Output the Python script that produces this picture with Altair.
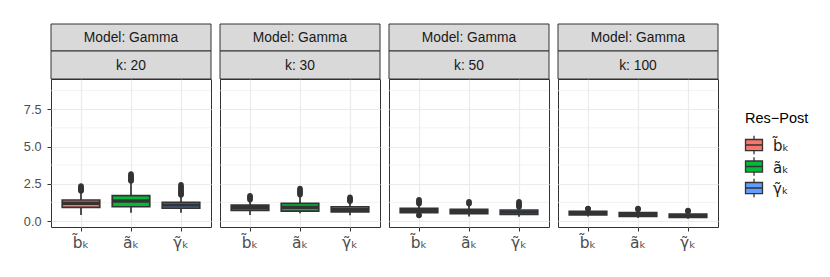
import altair as alt
import pandas as pd

FONT = "Liberation Sans"
MATH_FONT = "DejaVu Sans"

# ---- data -------------------------------------------------------------
ks = [20, 30, 50, 100]
cats = ["b\u0303\u2096", "a\u0303\u2096", "\u03b3\u0303\u2096"]
colors = ["#F8766D", "#00BA38", "#619CFF"]

# order: for each k, categories b, a, gamma
panel_k = [20, 20, 20, 30, 30, 30, 50, 50, 50, 100, 100, 100]
panel_cat = cats * 4
whisker_low = [0.40, 0.56, 0.56, 0.40, 0.52, 0.38, 0.45, 0.30, 0.29, 0.30, 0.20, 0.15]
q1 = [0.92, 0.96, 0.87, 0.72, 0.67, 0.62, 0.56, 0.49, 0.45, 0.42, 0.31, 0.25]
median = [1.19, 1.34, 1.07, 0.89, 0.92, 0.78, 0.72, 0.63, 0.60, 0.54, 0.45, 0.36]
q3 = [1.41, 1.70, 1.25, 1.07, 1.19, 0.96, 0.85, 0.78, 0.74, 0.65, 0.56, 0.47]
whisker_high = [1.98, 2.62, 1.70, 1.38, 1.74, 1.29, 1.12, 1.12, 0.92, 0.78, 0.75, 0.64]

outliers = [
    [2.02, 2.07, 2.12, 2.17, 2.22, 2.28, 2.35],
    [2.68, 2.74, 2.80, 2.86, 2.93, 3.00, 3.07, 3.15],
    [1.74, 1.80, 1.87, 1.94, 2.00, 2.08, 2.16, 2.25, 2.34, 2.44],
    [1.43, 1.49, 1.56, 1.63, 1.70],
    [1.77, 1.84, 1.92, 2.00, 2.09, 2.19],
    [1.32, 1.38, 1.45, 1.52, 1.59],
    [1.16, 1.22, 1.29, 1.36, 1.43, 0.40, 0.37],
    [1.16, 1.23, 1.30],
    [0.95, 1.01, 1.08, 1.15, 1.22, 1.30],
    [0.80, 0.83, 0.85],
    [0.77, 0.81, 0.85],
    [0.66, 0.68, 0.70],
]

minor_grid = [1.25, 3.75, 6.25, 8.75]
y_ticks = [0.0, 2.5, 5.0, 7.5]
y_domain = [-0.4, 9.53]
model_label = "Model: Gamma"
legend_title = "Res\u2212Post"

# ---- tables -------------------------------------------------------------
stats = pd.DataFrame({
    "k": panel_k, "cat": panel_cat, "wlo": whisker_low, "q1": q1,
    "med": median, "q3": q3, "whi": whisker_high,
})
out_rows = []
for kk, cc, vals in zip(panel_k, panel_cat, outliers):
    for v in vals:
        out_rows.append({"k": kk, "cat": cc, "v": v})
out_df = pd.DataFrame(out_rows)
minor_df = pd.DataFrame({"v": minor_grid})

W, H = 160, 148
DARK = "#333333"
LW = 1.7
color_scale = alt.Scale(domain=cats, range=colors)
y_scale = alt.Scale(domain=y_domain, nice=False, zero=False)


def make_panel(i, k):
    if i == 0:
        y_axis = alt.Axis(title=None, values=y_ticks, format=".1f", grid=True,
                          ticks=True, labels=True, domain=False)
    else:
        y_axis = alt.Axis(title=None, values=y_ticks, grid=True, ticks=False,
                          labels=False, domain=False)
    x_enc = alt.X("cat:N", sort=cats,
                  scale=alt.Scale(domain=cats, paddingInner=0.25, paddingOuter=0.225),
                  axis=alt.Axis(title=None, bandPosition=0.5, grid=True, labelAngle=0,
                                domain=False, labelFont=MATH_FONT, labelFontSize=15.5,
                                labelPadding=4))
    sub = stats[stats.k == k]
    osub = out_df[out_df.k == k]
    strip = pd.DataFrame({"model": [model_label], "klab": [f"k: {k}"]})

    minor = alt.Chart(minor_df).mark_rule(color="#EBEBEB", strokeWidth=0.6).encode(
        y=alt.Y("v:Q", scale=y_scale, axis=y_axis))
    base = alt.Chart(sub)
    wl = base.mark_rule(color=DARK, strokeWidth=LW).encode(
        x=x_enc, y=alt.Y("wlo:Q", scale=y_scale, axis=y_axis), y2="q1:Q")
    wh = base.mark_rule(color=DARK, strokeWidth=LW).encode(
        x=x_enc, y=alt.Y("q3:Q", scale=y_scale, axis=y_axis), y2="whi:Q")
    box = base.mark_bar(stroke=DARK, strokeWidth=LW, opacity=1).encode(
        x=x_enc, y=alt.Y("q1:Q", scale=y_scale, axis=y_axis), y2="q3:Q",
        fill=alt.Fill("cat:N", scale=color_scale, legend=None))
    med = base.mark_tick(color=DARK, thickness=3.4, size=37.5, opacity=1).encode(
        x=x_enc, y=alt.Y("med:Q", scale=y_scale, axis=y_axis))
    pts = alt.Chart(osub).mark_circle(color=DARK, size=30, opacity=1).encode(
        x=x_enc, y=alt.Y("v:Q", scale=y_scale, axis=y_axis))

    sc = alt.Chart(strip)
    r1 = sc.mark_rect(fill="#D9D9D9", stroke=DARK, strokeWidth=1).encode(
        x=alt.value(0), x2=alt.value(W), y=alt.value(-55), y2=alt.value(-28))
    t1 = sc.mark_text(font=FONT, fontSize=13.8, color="#1A1A1A", baseline="middle").encode(
        x=alt.value(W / 2), y=alt.value(-41), text="model:N")
    r2 = sc.mark_rect(fill="#D9D9D9", stroke=DARK, strokeWidth=1).encode(
        x=alt.value(0), x2=alt.value(W), y=alt.value(-28), y2=alt.value(0))
    t2 = sc.mark_text(font=FONT, fontSize=13.8, color="#1A1A1A", baseline="middle").encode(
        x=alt.value(W / 2), y=alt.value(-13.5), text="klab:N")

    return alt.layer(minor, wl, wh, box, med, pts, r1, t1, r2, t2).properties(
        width=W, height=H)


panels = [make_panel(i, k) for i, k in enumerate(ks)]

# ---- legend ---------------------------------------------------------------
leg_df = pd.DataFrame({"cat": cats})
title_df = pd.DataFrame({"t": [legend_title]})
ly = alt.Y("cat:N", sort=cats,
           scale=alt.Scale(type="point", domain=cats, range=[66, 109], padding=0),
           axis=None)
key_path = "M-1,-0.65H1V0.65H-1Z M-1,0H1 M0,-0.65V-1.1 M0,0.65V1.1"
keys = alt.Chart(leg_df).mark_point(shape=key_path, size=289, filled=True, stroke=DARK,
                                    strokeWidth=1.3, opacity=1).encode(
    x=alt.value(27), y=ly, fill=alt.Fill("cat:N", scale=color_scale, legend=None))
labs = alt.Chart(leg_df).mark_text(font=MATH_FONT, fontSize=15, color="#1A1A1A", align="left",
                                   baseline="middle", dy=1).encode(
    x=alt.value(46), y=ly, text="cat:N")
ttl = alt.Chart(title_df).mark_text(font=FONT, fontSize=14.5, color="#000000", align="left",
                                    baseline="alphabetic").encode(
    x=alt.value(18), y=alt.value(44), text="t:N")
legend = alt.layer(keys, labs, ttl).properties(
    width=85, height=H, view=alt.ViewBackground(strokeOpacity=0))

chart = alt.hconcat(*panels, legend, spacing=9, bounds="flush").properties(
    padding={"left": 14, "top": 15, "right": 5, "bottom": 5}
).configure_view(stroke=DARK, strokeWidth=1).configure_axis(
    labelFont=FONT, labelFontSize=12.7, labelColor="#4D4D4D", tickColor=DARK,
    tickSize=4, tickWidth=1, labelPadding=6, gridColor="#EBEBEB", gridWidth=1.2,
)

chart.save("out.html", embed_options={"renderer": "svg", "actions": False})
